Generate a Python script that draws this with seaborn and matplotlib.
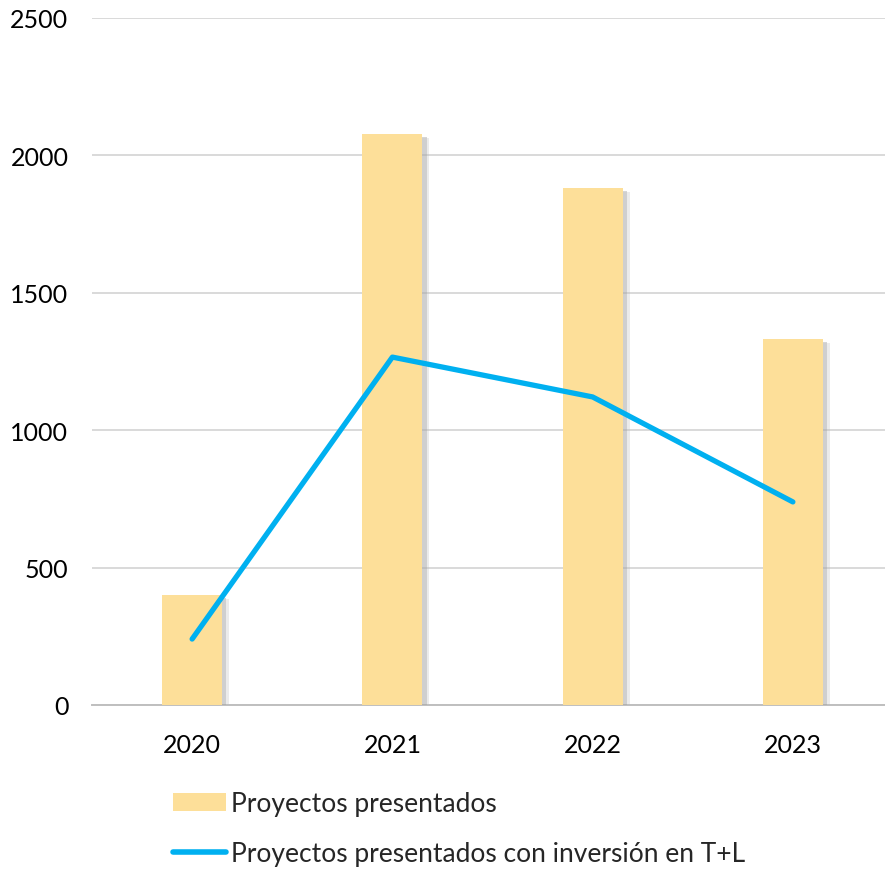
import numpy as np
import pandas as pd
import matplotlib
matplotlib.use("Agg")
import matplotlib.pyplot as plt
import matplotlib.patheffects as pe
from matplotlib.lines import Line2D
from matplotlib.patches import Patch
import seaborn as sns

## data
years = ["2020", "2021", "2022", "2023"]
presentados = [400, 2078, 1881, 1332]
con_inversion = [240, 1266, 1121, 739]

bar_label = "Proyectos presentados"
line_label = "Proyectos presentados con inversión en T+L"
bar_color = "#FDDF99"
line_color = "#00B0F0"

sns.set_theme(style="white")
plt.rcParams["font.family"] = ["Lato", "DejaVu Sans"]

df = pd.DataFrame({"year": years, "presentados": presentados, "inversion": con_inversion})

# create a figure
fig = plt.figure(figsize=(8.85, 8.7), dpi=100)
ax = fig.add_axes([92 / 885, 164 / 870, 1 - 92 / 885, (706 - 19) / 870])

sns.barplot(data=df, x="year", y="presentados", color=bar_color, width=0.3,
            saturation=1, ax=ax, zorder=3, edgecolor="none", linewidth=0)
for p in ax.patches:
    p.set_path_effects([pe.SimplePatchShadow(offset=(3, -2), shadow_rgbFace="#8c8c8c", alpha=0.35),
                        pe.SimplePatchShadow(offset=(5, -3), shadow_rgbFace="#bfbfbf", alpha=0.3),
                        pe.Normal()])

sns.lineplot(data=df, x="year", y="inversion", color=line_color, linewidth=3.8,
             sort=False, ax=ax, zorder=4, solid_capstyle="round")

ax.set_ylim(0, 2500)
ax.set_xlim(-0.5, 3.46)
ax.set_yticks(np.arange(0, 2501, 500))
ax.yaxis.grid(True, color="#D9D9D9", linewidth=1.4, zorder=0)
ax.set_axisbelow(True)
for s in ["top", "right", "left"]:
    ax.spines[s].set_visible(False)
ax.spines["bottom"].set_color("#BFBFBF")
ax.spines["bottom"].set_linewidth(1.4)
ax.set_xlabel("")
ax.set_ylabel("")
ax.tick_params(axis="both", labelsize=18, length=0, colors="black")
ax.tick_params(axis="y", pad=17)
ax.tick_params(axis="x", pad=20)

handles = [Patch(facecolor=bar_color, edgecolor="none"),
           Line2D([0], [0], color=line_color, linewidth=4, solid_capstyle="round")]
fig.legend(handles, [bar_label, line_label], loc="upper left",
           bbox_to_anchor=(152 / 885, 99 / 870), frameon=False, fontsize=19,
           handlelength=2.0, handletextpad=0.2, labelspacing=0.95, borderpad=0.3)

plt.savefig("out.png", dpi=100)
